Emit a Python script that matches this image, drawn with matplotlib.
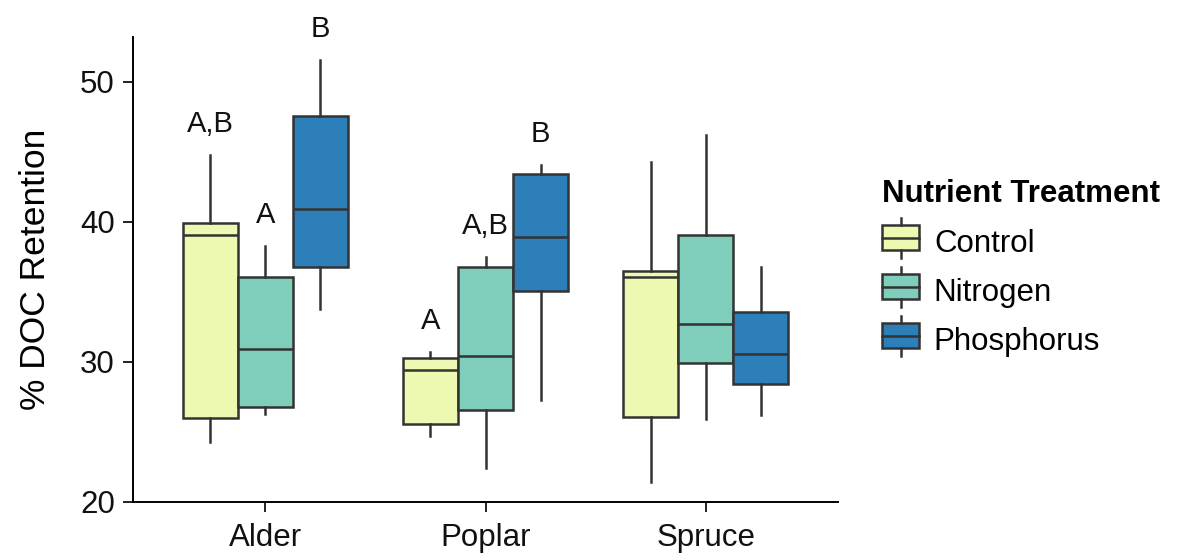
import numpy as np
import matplotlib.pyplot as plt
from matplotlib.legend_handler import HandlerBase
from matplotlib.patches import Rectangle
from matplotlib.lines import Line2D

plt.rcParams['font.family'] = ['Liberation Sans', 'DejaVu Sans']

species = ['Alder', 'Poplar', 'Spruce']
treatments = ['Control', 'Nitrogen', 'Phosphorus']
colors = ['#edf8b1', '#7fcdbb', '#2c7fb8']

# [whisker low, q1, median, q3, whisker high] per species, per treatment
control = [[24.3, 26.0, 39.1, 39.9, 44.8],
           [24.7, 25.6, 29.4, 30.3, 30.7],
           [21.4, 26.1, 36.1, 36.5, 44.3]]
nitrogen = [[26.3, 26.8, 30.9, 36.1, 38.3],
            [22.4, 26.6, 30.4, 36.8, 37.5],
            [25.9, 29.9, 32.7, 39.1, 46.2]]
phosphorus = [[33.8, 36.8, 40.9, 47.6, 51.6],
              [27.3, 35.1, 38.9, 43.4, 44.1],
              [26.2, 28.4, 30.6, 33.6, 36.8]]

letters = [['A,B', 'A', 'B'],
           ['A', 'A,B', 'B'],
           ['', '', '']]

edge = '#333333'
fig = plt.figure(figsize=(11.77, 5.6), dpi=100)
ax = fig.add_axes([0.113, 0.1036, 0.599, 0.83])

width = 0.25
for t, (data, col) in enumerate(zip([control, nitrogen, phosphorus], colors)):
    stats = []
    for s in range(3):
        lo, q1, med, q3, hi = data[s]
        stats.append(dict(whislo=lo, q1=q1, med=med, q3=q3, whishi=hi, fliers=[]))
    pos = np.arange(1, 4) + (t - 1) * width
    ax.bxp(stats, positions=pos, widths=width, showcaps=False, patch_artist=True,
           boxprops=dict(facecolor=col, edgecolor=edge, linewidth=1.8),
           medianprops=dict(color=edge, linewidth=1.8),
           whiskerprops=dict(color=edge, linewidth=1.8), manage_ticks=False)
    for s in range(3):
        if letters[s][t]:
            ax.text(pos[s], data[s][4] + 1.2, letters[s][t], ha='center', va='bottom',
                    fontsize=21, color='#111111', clip_on=False)

ax.set_xlim(0.4, 3.6)
ax.set_ylim(20, 53.2)
ax.set_xticks([1, 2, 3])
ax.set_xticklabels(species)
ax.set_yticks([20, 30, 40, 50])
ax.set_ylabel('% DOC Retention', fontsize=25.5, labelpad=20)
ax.tick_params(labelsize=22.5, length=7, width=1.3, pad=6, colors='#111111')
ax.tick_params(axis='x', pad=8)
for side in ['top', 'right']:
    ax.spines[side].set_visible(False)
for side in ['left', 'bottom']:
    ax.spines[side].set_linewidth(1.4)


class BoxKey(HandlerBase):
    def create_artists(self, legend, orig, xd, yd, w, h, fontsize, trans):
        fc = orig.get_facecolor()
        cx = xd + w / 2
        r = Rectangle((xd, yd), w, h, facecolor=fc, edgecolor=edge, lw=1.8,
                      transform=trans)
        m = Line2D([xd, xd + w], [yd + h / 2] * 2, color=edge, lw=1.8, transform=trans)
        w1 = Line2D([cx, cx], [yd + h, yd + h * 1.3], color=edge, lw=1.8, transform=trans)
        w2 = Line2D([cx, cx], [yd, yd - h * 0.3], color=edge, lw=1.8, transform=trans)
        return [r, m, w1, w2]


handles = [Rectangle((0, 0), 1, 1, facecolor=c) for c in colors]
leg = fig.legend(handles, treatments, handler_map={Rectangle: BoxKey()},
                 loc='upper left', bbox_to_anchor=(882 / 1177, 1 - 179 / 560),
                 frameon=False, borderpad=0, borderaxespad=0,
                 title='Nutrient Treatment', fontsize=22.5, handlelength=1.19,
                 handleheight=0.85, labelspacing=0.6, handletextpad=0.47)
leg.get_title().set_fontsize(22.5)
leg.get_title().set_fontweight('bold')
leg._legend_box.align = 'left'
leg._legend_box.sep = 14

fig.savefig('out.png', dpi=100)
